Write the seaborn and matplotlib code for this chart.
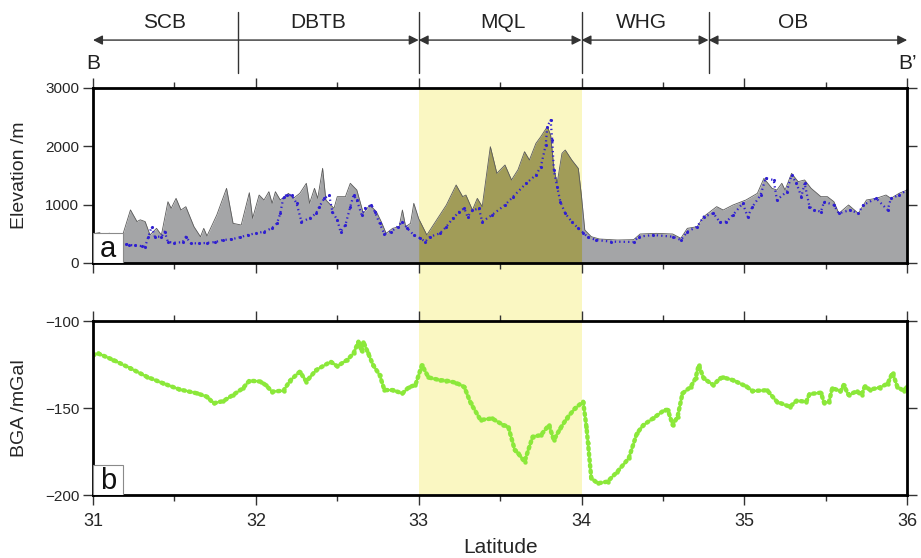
"""
Profile B-B': elevation and Bouguer gravity anomaly along latitude
"""

import numpy as np
import pandas as pd
import matplotlib
matplotlib.use("Agg")
import matplotlib.pyplot as plt
import matplotlib.transforms as mtransforms
from matplotlib.patches import Rectangle
import seaborn as sns

# ---- data ----
# topography envelope (grey fill)
topo_lat = [31.00, 31.04, 31.06, 31.10, 31.17, 31.18, 31.23, 31.27, 31.29, 31.32,
            31.35, 31.39, 31.42, 31.46, 31.48, 31.51, 31.54, 31.57, 31.62, 31.66,
            31.68, 31.70, 31.76, 31.82, 31.86, 31.91, 31.96, 31.98, 32.02, 32.05,
            32.08, 32.10, 32.12, 32.15, 32.20, 32.23, 32.27, 32.31, 32.33, 32.36,
            32.38, 32.41, 32.43, 32.48, 32.50, 32.55, 32.58, 32.62, 32.66, 32.70,
            32.74, 32.77, 32.80, 32.84, 32.88, 32.90, 32.92, 32.95, 32.97, 33.00,
            33.05, 33.11, 33.17, 33.23, 33.27, 33.29, 33.33, 33.36, 33.39, 33.44,
            33.48, 33.53, 33.57, 33.61, 33.65, 33.68, 33.72, 33.75, 33.79, 33.81,
            33.83, 33.85, 33.88, 33.90, 33.94, 33.98, 34.00, 34.02, 34.06, 34.11,
            34.22, 34.32, 34.36, 34.46, 34.56, 34.61, 34.65, 34.71, 34.75, 34.83,
            34.87, 34.93, 35.01, 35.08, 35.12, 35.17, 35.20, 35.23, 35.25, 35.29,
            35.33, 35.37, 35.41, 35.47, 35.51, 35.55, 35.58, 35.64, 35.70, 35.75,
            35.81, 35.87, 35.90, 35.95, 36.00]
topo_elev = [500, 520, 480, 510, 450, 460, 910, 710, 740, 710,
             480, 594, 480, 1050, 937, 1108, 908, 965, 622, 450,
             594, 463, 823, 1280, 680, 651, 1205, 766, 1165, 1080,
             1222, 1023, 1222, 1080, 1194, 1108, 1194, 1366, 1023, 1280,
             1108, 1623, 1080, 937, 1137, 1137, 1366, 1251, 851, 994,
             880, 708, 508, 594, 622, 908, 622, 680, 1023, 760,
             480, 737, 994, 1337, 1137, 1165, 908, 1108, 966, 1994,
             1537, 1680, 1423, 1600, 1908, 1766, 2051, 2166, 2337, 2194,
             1623, 1366, 1880, 1937, 1766, 1623, 1137, 566, 451, 411,
             394, 400, 497, 508, 497, 423, 594, 622, 794, 966,
             908, 994, 1080, 1194, 1451, 1280, 1251, 1366, 1251, 1537,
             1394, 1423, 1280, 1137, 1137, 1051, 851, 994, 851, 1080,
             1108, 1165, 1108, 1194, 1251]

# station elevations (blue dots)
sta_lat = [31.18, 31.20, 31.22, 31.26, 31.30, 31.32, 31.34, 31.36, 31.38, 31.42,
           31.44, 31.46, 31.50, 31.55, 31.57, 31.60, 31.65, 31.70, 31.75, 31.80,
           31.85, 31.90, 31.95, 32.00, 32.05, 32.10, 32.13, 32.15, 32.17, 32.19,
           32.22, 32.25, 32.28, 32.33, 32.37, 32.39, 32.42, 32.45, 32.47, 32.50,
           32.52, 32.55, 32.58, 32.60, 32.62, 32.65, 32.67, 32.71, 32.73, 32.76,
           32.79, 32.83, 32.87, 32.90, 32.93, 32.97, 33.01, 33.04, 33.07, 33.13,
           33.17, 33.21, 33.25, 33.28, 33.30, 33.33, 33.37, 33.39, 33.45, 33.53,
           33.58, 33.66, 33.72, 33.75, 33.78, 33.79, 33.81, 33.82, 33.83, 33.85,
           33.87, 33.90, 33.94, 33.98, 34.01, 34.04, 34.09, 34.18, 34.32, 34.35,
           34.44, 34.56, 34.61, 34.65, 34.71, 34.75, 34.81, 34.85, 34.89, 34.93,
           34.99, 35.02, 35.05, 35.10, 35.13, 35.18, 35.20, 35.26, 35.29, 35.32,
           35.35, 35.37, 35.40, 35.43, 35.47, 35.49, 35.55, 35.58, 35.65, 35.70,
           35.73, 35.81, 35.88, 35.90, 35.95, 36.00]
sta_elev = [340, 330, 309, 300, 290, 280, 451, 622, 451, 451,
            537, 360, 350, 355, 450, 340, 335, 345, 360, 395,
            406, 440, 480, 510, 537, 600, 680, 851, 1137, 1165,
            1165, 1023, 708, 766, 851, 966, 1108, 1165, 880, 737,
            537, 651, 966, 1165, 1080, 823, 937, 994, 880, 680,
            497, 537, 622, 708, 594, 480, 423, 366, 451, 508,
            622, 766, 880, 937, 794, 900, 937, 708, 823, 994,
            1137, 1366, 1508, 1651, 2023, 2337, 2451, 2108, 1594, 1308,
            1051, 851, 708, 594, 520, 440, 394, 366, 360, 451,
            480, 451, 394, 537, 622, 794, 851, 700, 708, 823,
            1023, 794, 966, 1165, 1451, 1423, 1080, 1222, 1508, 1366,
            1137, 1366, 966, 908, 880, 1051, 994, 851, 908, 851,
            994, 1108, 908, 1108, 1165, 1251]

# Bouguer gravity anomaly (mGal)
bga_lat = [31.00, 31.03, 31.125, 31.23, 31.33, 31.43, 31.53, 31.64, 31.70, 31.74,
           31.80, 31.86, 31.92, 31.96, 32.03, 32.06, 32.10, 32.17, 32.21, 32.27,
           32.31, 32.37, 32.46, 32.50, 32.56, 32.60, 32.63, 32.65, 32.66, 32.69,
           32.72, 32.76, 32.79, 32.84, 32.90, 32.94, 32.98, 33.02, 33.06, 33.13,
           33.17, 33.23, 33.28, 33.32, 33.38, 33.45, 33.52, 33.55, 33.59, 33.61,
           33.65, 33.70, 33.75, 33.80, 33.83, 33.87, 33.91, 33.96, 34.01, 34.03,
           34.04, 34.06, 34.10, 34.16, 34.22, 34.29, 34.34, 34.38, 34.44, 34.51,
           34.53, 34.56, 34.59, 34.62, 34.67, 34.70, 34.72, 34.75, 34.81, 34.85,
           34.87, 34.93, 35.01, 35.05, 35.14, 35.20, 35.28, 35.32, 35.38, 35.40,
           35.47, 35.49, 35.52, 35.54, 35.59, 35.61, 35.64, 35.69, 35.72, 35.74,
           35.77, 35.83, 35.88, 35.91, 35.94, 35.98, 36.00]
bga_val = [-119.5, -118.6, -122.4, -127.2, -132.0, -135.8, -139.3, -141.6, -143.5, -147.3,
           -146.0, -142.5, -138.7, -134.3, -134.8, -136.8, -140.6, -140.0, -134.3, -129.1,
           -134.8, -128.2, -123.4, -126.0, -122.4, -118.6, -111.9, -117.5, -111.9, -118.6,
           -125.3, -131.0, -139.7, -139.7, -141.6, -138.0, -136.8, -125.3, -132.4, -134.0,
           -134.3, -135.5, -137.9, -147.3, -156.9, -156.0, -159.8, -160.7, -174.1, -176.0,
           -180.8, -166.5, -165.6, -159.8, -168.4, -161.7, -155.9, -150.2, -146.4, -160.7,
           -170.3, -190.4, -193.3, -192.3, -186.6, -178.9, -164.6, -159.8, -155.9, -151.1,
           -151.1, -159.8, -155.0, -141.6, -137.9, -133.0, -125.3, -133.0, -136.8, -133.0,
           -132.4, -134.0, -137.5, -140.2, -139.8, -146.4, -149.3, -145.8, -146.4, -142.0,
           -141.2, -147.0, -146.4, -138.5, -140.4, -136.8, -142.5, -140.4, -142.5, -137.5,
           -139.4, -138.3, -136.0, -129.7, -137.9, -140.2, -137.5]

# tectonic units along the profile
unit_names = ["SCB", "DBTB", "MQL", "WHG", "OB"]
unit_label_lat = [31.44, 32.38, 33.52, 34.37, 35.30]
unit_bounds = [31.89, 33.0, 34.0, 34.78]
unit_arrows = [(31.0, 33.0), (33.0, 34.0), (34.0, 34.78), (34.78, 36.0)]
mql_span = (33.0, 34.0)

topo = pd.DataFrame({"lat": topo_lat, "elev": topo_elev})
sta = pd.DataFrame({"lat": sta_lat, "elev": sta_elev})
bga = pd.DataFrame({"lat": bga_lat, "bga": bga_val})

# ---- style ----
sns.set_theme(style="ticks")
plt.rcParams["font.family"] = ["Liberation Sans", "DejaVu Sans"]

GREY = "#a4a5a7"
OLIVE = "#a19c58"
YELLOW = "#faf7c2"
BLUE = "#2f1fd0"
GREEN = "#8be83a"

fig = plt.figure(figsize=(9.21, 5.58), dpi=100)
fig.patch.set_facecolor("white")
ax_a = fig.add_axes([0.101, 0.5287, 0.884, 0.3136])
ax_b = fig.add_axes([0.101, 0.1129, 0.884, 0.3118])
ax_h = fig.add_axes([0.101, 0.842, 0.884, 0.158])

# yellow band through both panels and the gap between them
trans = mtransforms.blended_transform_factory(ax_b.transData, fig.transFigure)
band = Rectangle((mql_span[0], 0.1129), mql_span[1] - mql_span[0], 0.842 - 0.1129,
                 transform=trans, facecolor=YELLOW, edgecolor="none", zorder=-1)
fig.add_artist(band)

# ---- panel a: elevation ----
ax_a.set_facecolor("none")
ax_a.fill_between(topo["lat"], 0, topo["elev"], color=GREY, lw=0, zorder=1)
in_mql = (topo["lat"] >= mql_span[0]) & (topo["lat"] <= mql_span[1])
ax_a.fill_between(topo["lat"], 0, topo["elev"], where=in_mql, color=OLIVE, lw=0, zorder=1.5)
sns.lineplot(data=topo, x="lat", y="elev", ax=ax_a, color="#5a5a5a", lw=0.6, zorder=2)
sns.lineplot(data=sta, x="lat", y="elev", ax=ax_a, sort=False, color=BLUE, lw=1.6,
             linestyle=(0, (0.6, 1.4)), zorder=3)
sns.scatterplot(data=sta, x="lat", y="elev", ax=ax_a, color=BLUE, s=5, lw=0, zorder=3)
ax_a.set_ylim(0, 3000)
ax_a.set_yticks([0, 1000, 2000, 3000])
ax_a.set_ylabel("Elevation /m", fontsize=14, labelpad=12)
ax_a.set_xlabel("")

# ---- panel b: BGA ----
ax_b.set_facecolor("none")
sns.lineplot(data=bga, x="lat", y="bga", ax=ax_b, color="#6a5fd8", lw=0.7, zorder=2)
sns.lineplot(data=bga, x="lat", y="bga", ax=ax_b, color=GREEN, lw=3.2,
             linestyle=(0, (0.4, 0.9)), dash_capstyle="round", zorder=3)
sns.scatterplot(data=bga, x="lat", y="bga", ax=ax_b, color=GREEN, s=10, lw=0, zorder=3)
ax_b.set_ylim(-200, -100)
ax_b.set_yticks([-200, -150, -100])
ax_b.set_ylabel("BGA /mGal", fontsize=14, labelpad=12)
ax_b.set_xlabel("Latitude", fontsize=15, labelpad=6)

for ax, lab in [(ax_a, "a"), (ax_b, "b")]:
    ax.set_xlim(31, 36)
    ax.set_xticks([31, 32, 33, 34, 35, 36])
    ax.set_xticks(np.arange(31.5, 36, 1.0), minor=True)
    ax.tick_params(axis="x", which="major", direction="out", length=7, width=1,
                   color="#333333", top=True, bottom=True, labelsize=13, pad=6)
    ax.tick_params(axis="x", which="minor", direction="out", length=4.5, width=1,
                   color="#333333", top=True, bottom=True)
    ax.tick_params(axis="y", direction="out", length=7, width=1, color="#333333",
                   left=True, right=True, labelsize=11, pad=3)
    for s in ax.spines.values():
        s.set_visible(True)
        s.set_linewidth(2)
        s.set_color("black")
        s.set_zorder(5)
    box = Rectangle((0, 0), 30 / 814, 30 / 175, transform=ax.transAxes,
                    facecolor="white", edgecolor="#8a8a8a", lw=0.8, zorder=6)
    ax.add_patch(box)
    ax.text(15 / 814, 14 / 175, lab, transform=ax.transAxes, ha="center", va="center",
            fontsize=21, color="#111111", zorder=7)

ax_a.tick_params(axis="x", labelbottom=False)

# ---- header: tectonic units ----
ax_h.set_xlim(31, 36)
ax_h.set_ylim(88, 0)
ax_h.axis("off")
for x in unit_bounds:
    ax_h.plot([x, x], [12, 73], color="#333333", lw=1)
for (x0, x1) in unit_arrows:
    ax_h.annotate("", xy=(x1, 40), xytext=(x0, 40),
                  arrowprops=dict(arrowstyle="<|-|>", color="#333333", lw=1,
                                  mutation_scale=14, shrinkA=0, shrinkB=0))
for name, x in zip(unit_names, unit_label_lat):
    ax_h.text(x, 22, name, ha="center", va="center", fontsize=15, color="#222222")
ax_h.text(31.0, 63, "B", ha="center", va="center", fontsize=15, color="#222222")
ax_h.text(36.0, 63, "B\u2019", ha="center", va="center", fontsize=15, color="#222222")

plt.savefig("out.png", dpi=100)
print("saved out.png")
